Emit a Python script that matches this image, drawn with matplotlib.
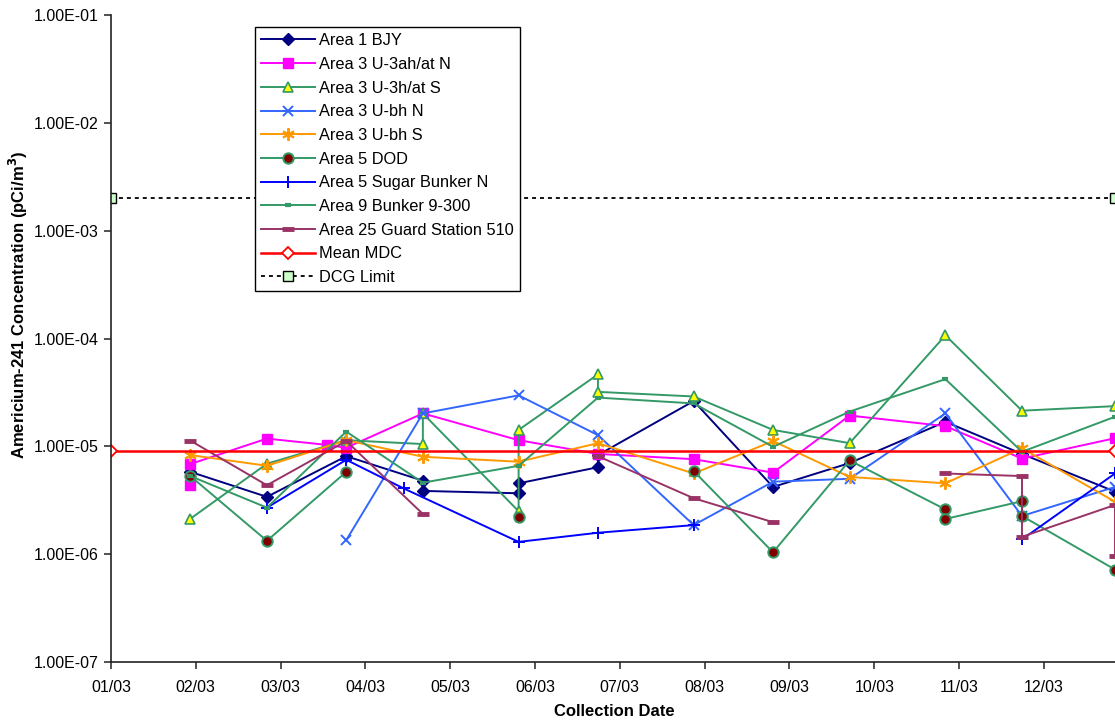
import matplotlib
matplotlib.use('Agg')
import matplotlib.pyplot as plt
import numpy as np
import pandas as pd

plt.rcParams['font.family'] = ['Liberation Sans', 'DejaVu Sans']

nan = np.nan

# ---- axis data ----
tick_dates = pd.date_range('2003-01-01', periods=12, freq='31D')
tick_labels = ['01/03', '02/03', '03/03', '04/03', '05/03', '06/03',
               '07/03', '08/03', '09/03', '10/03', '11/03', '12/03']
y_ticks = [1e-7, 1e-6, 1e-5, 1e-4, 1e-3, 1e-2, 1e-1]
y_tick_labels = ['1.00E-07', '1.00E-06', '1.00E-05', '1.00E-04',
                 '1.00E-03', '1.00E-02', '1.00E-01']

# ---- series data ----
bjy_dates = ['2003-01-30', '2003-02-27', '2003-03-28', '2003-04-25', '2003-04-25',
             '2003-05-30', '2003-05-30', '2003-06-28', '2003-06-28', '2003-08-02',
             '2003-08-31', '2003-09-28', '2003-11-02', '2003-11-30', '2004-01-03']
bjy_vals = [5.8e-6, 3.4e-6, 8.1e-6, 4.8e-6, 3.86e-6, 3.67e-6, 4.54e-6, 6.4e-6,
            8.3e-6, 2.63e-5, 4.2e-6, 7.0e-6, 1.69e-5, 8.5e-6, 3.8e-6]

u3n_dates = ['2003-01-30', '2003-01-30', '2003-02-27', '2003-03-21', '2003-03-28',
             '2003-04-25', '2003-05-30', '2003-06-28', '2003-08-02', '2003-08-31',
             '2003-09-28', '2003-11-02', '2003-11-30', '2004-01-03']
u3n_vals = [4.4e-6, 6.85e-6, 1.18e-5, 1.03e-5, 9.7e-6, 2.02e-5, 1.14e-5, 8.5e-6,
            7.6e-6, 5.7e-6, 1.93e-5, 1.54e-5, 7.7e-6, 1.19e-5]

u3s_dates = ['2003-01-30', '2003-02-27', '2003-03-28', '2003-04-25', '2003-04-25',
             '2003-05-30', '2003-05-30', '2003-06-28', '2003-06-28', '2003-08-02',
             '2003-08-31', '2003-09-28', '2003-11-02', '2003-11-30', '2004-01-03']
u3s_vals = [2.13e-6, 6.9e-6, 1.14e-5, 1.05e-5, 2.02e-5, 2.5e-6, 1.42e-5, 4.65e-5,
            3.2e-5, 2.9e-5, 1.42e-5, 1.07e-5, 1.07e-4, 2.14e-5, 2.36e-5]

ubhn_dates = ['2003-03-28', '2003-04-25', '2003-05-30', '2003-06-28', '2003-08-02',
              '2003-08-31', '2003-09-28', '2003-11-02', '2003-11-30', '2004-01-03']
ubhn_vals = [1.35e-6, 2.02e-5, 2.97e-5, 1.27e-5, 1.86e-6, 4.7e-6, 5.0e-6, 2.02e-5,
             2.26e-6, 4.2e-6]

ubhs_dates = ['2003-01-30', '2003-02-27', '2003-03-28', '2003-04-25', '2003-05-30',
              '2003-06-28', '2003-08-02', '2003-08-31', '2003-09-28', '2003-11-02',
              '2003-11-30', '2004-01-03']
ubhs_vals = [8.3e-6, 6.6e-6, 1.14e-5, 8.0e-6, 7.2e-6, 1.07e-5, 5.6e-6, 1.12e-5,
             5.2e-6, 4.54e-6, 9.6e-6, 3.06e-6]

dod_dates = ['2003-01-30', '2003-02-27', '2003-03-28', '2003-04-25', '2003-05-30',
             '2003-06-28', '2003-08-02', '2003-08-31', '2003-09-28', '2003-11-02',
             '2003-11-02', '2003-11-30', '2003-11-30', '2004-01-03']
dod_vals = [5.3e-6, 1.33e-6, 5.8e-6, nan, 2.2e-6, nan, 5.9e-6, 1.04e-6, 7.4e-6,
            2.6e-6, 2.12e-6, 3.1e-6, 2.26e-6, 7.2e-7]

sugar_dates = ['2003-02-27', '2003-03-28', '2003-04-18', '2003-05-30', '2003-06-28',
               '2003-08-02', '2003-09-28', '2003-11-30', '2004-01-03']
sugar_vals = [2.7e-6, 7.5e-6, 4.07e-6, 1.3e-6, 1.58e-6, 1.86e-6, nan, 1.37e-6, 5.6e-6]

b9_dates = ['2003-01-30', '2003-02-27', '2003-03-28', '2003-04-25', '2003-05-30',
            '2003-06-28', '2003-08-02', '2003-08-31', '2003-09-28', '2003-11-02',
            '2003-11-30', '2004-01-03']
b9_vals = [5.3e-6, 2.7e-6, 1.37e-5, 4.6e-6, 6.6e-6, 2.83e-5, 2.5e-5, 9.9e-6,
           2.1e-5, 4.2e-5, 8.9e-6, 1.88e-5]

g25_dates = ['2003-01-30', '2003-02-27', '2003-03-28', '2003-04-25', '2003-05-30',
             '2003-06-28', '2003-08-02', '2003-08-31', '2003-09-28', '2003-11-02',
             '2003-11-30', '2003-11-30', '2004-01-03', '2004-01-03']
g25_vals = [1.13e-5, 4.36e-6, 1.12e-5, 2.36e-6, nan, 8.1e-6, 3.3e-6, 1.98e-6, nan,
            5.6e-6, 5.3e-6, 1.45e-6, 2.86e-6, 9.6e-7]

mdc_dates = ['2003-01-01', '2004-01-03']
mdc_vals = [9.1e-6, 9.1e-6]

dcg_dates = ['2003-01-01', '2004-01-03']
dcg_vals = [2.0e-3, 2.0e-3]

# ---- figure ----
W, H = 1115, 726
fig = plt.figure(figsize=(W / 100, H / 100), dpi=100)
ax = fig.add_axes([111 / W, 64 / H, (W - 111) / W, 647 / H])

green = '#339966'
lw = 1.4

def d(lst):
    return pd.to_datetime(lst)

ax.plot(d(bjy_dates), bjy_vals, color='#000080', lw=lw, marker='D', ms=6,
        mfc='#000080', mec='#000080', label='Area 1 BJY')
ax.plot(d(u3n_dates), u3n_vals, color='#FF00FF', lw=lw, marker='s', ms=7.5,
        mfc='#FF00FF', mec='#FF00FF', label='Area 3 U-3ah/at N')
ax.plot(d(u3s_dates), u3s_vals, color=green, lw=lw, marker='^', ms=7.5,
        mfc='#FFFF00', mec=green, mew=1.2, label='Area 3 U-3h/at S')
ax.plot(d(ubhn_dates), ubhn_vals, color='#3366FF', lw=lw, marker='x', ms=7.5,
        mew=1.4, label='Area 3 U-bh N')
ax.plot(d(ubhs_dates), ubhs_vals, color='#FF9900', lw=lw, marker=(6, 2, 0), ms=9,
        mew=1.4, mec='#FF9900', label='Area 3 U-bh S')
ax.plot(d(dod_dates), dod_vals, color=green, lw=lw, marker='o', ms=7.5,
        mfc='#800000', mec=green, mew=1.4, label='Area 5 DOD')
ax.plot(d(sugar_dates), sugar_vals, color='#0000FF', lw=lw, marker='+', ms=9,
        mew=1.4, label='Area 5 Sugar Bunker N')
ax.plot(d(b9_dates), b9_vals, color=green, lw=lw, marker='_', ms=5,
        mew=3, label='Area 9 Bunker 9-300')
ax.plot(d(g25_dates), g25_vals, color='#993366', lw=lw, marker='_', ms=8,
        mew=3.5, label='Area 25 Guard Station 510')
ax.plot(d(mdc_dates), mdc_vals, color='#FF0000', lw=1.8, marker='D', ms=6,
        mfc='white', mec='#FF0000', mew=1.3, label='Mean MDC')
ax.plot(d(dcg_dates), dcg_vals, color='black', lw=1.3, ls=(0, (2.2, 2.2)),
        marker='s', ms=7, mfc='#CCFFCC', mec='black', mew=1.0, label='DCG Limit')

ax.set_yscale('log')
ax.set_ylim(1e-7, 1e-1)
ax.set_xlim(pd.Timestamp('2003-01-01'), pd.Timestamp('2004-01-03'))
ax.set_yticks(y_ticks)
ax.set_yticklabels(y_tick_labels)
ax.yaxis.set_minor_locator(matplotlib.ticker.NullLocator())
ax.set_xticks(tick_dates)
ax.set_xticklabels(tick_labels)
ax.xaxis.set_minor_locator(matplotlib.ticker.NullLocator())

for s in ['top', 'right']:
    ax.spines[s].set_visible(False)
for s in ['left', 'bottom']:
    ax.spines[s].set_color('#222222')
    ax.spines[s].set_linewidth(1.2)
ax.tick_params(axis='both', direction='out', length=5, width=1.1,
               color='#222222', labelsize=11.5, pad=4)
ax.tick_params(axis='x', pad=8)

fig.text(614 / W, 1 - 712 / H, 'Collection Date', fontsize=12,
         fontweight='bold', ha='center', va='center')
fig.text(18 / W, 1 - 305 / H,
         'Americium-241 Concentration (pCi/m$^\\mathbf{3}$)', fontsize=12,
         fontweight='bold', ha='center', va='center', rotation=90)

leg = ax.legend(loc='upper left', bbox_to_anchor=(255 / W, 1 - 27 / H),
                bbox_transform=fig.transFigure, frameon=True, fancybox=False,
                edgecolor='black', fontsize=11.8, handlelength=3.3,
                handletextpad=0.2, labelspacing=0.53, borderpad=0.38,
                borderaxespad=0, framealpha=1)
leg.get_frame().set_linewidth(1.0)

fig.savefig('out.png', dpi=100)
